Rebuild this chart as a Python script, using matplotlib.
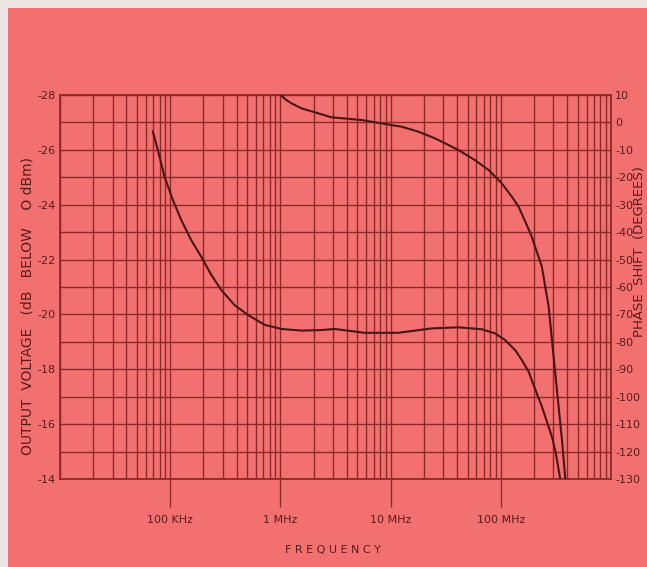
import matplotlib
matplotlib.use("Agg")
import matplotlib.pyplot as plt
from matplotlib.patches import Rectangle

# Output voltage curve (dB below 0 dBm) vs frequency (Hz)
amp_freq = [69.6e3, 77.3e3, 88.8e3, 105.8e3, 126e3, 155e3, 191e3, 236e3, 291e3,
            384e3, 508e3, 720e3, 1.02e6, 1.55e6, 2.36e6, 3.1e6, 5.8e6, 11.7e6,
            23.6e6, 41e6, 67e6, 88.7e6, 109e6, 135e6, 155e6, 179e6, 212e6,
            236e6, 262e6, 291e6, 316e6, 346e6]
amp_db = [-26.66, -25.99, -25.02, -24.17, -23.44, -22.71, -22.11, -21.44, -20.89,
          -20.34, -19.98, -19.62, -19.47, -19.41, -19.43, -19.47, -19.33, -19.33,
          -19.49, -19.53, -19.46, -19.31, -19.07, -18.70, -18.34, -17.91, -17.12,
          -16.64, -16.09, -15.54, -14.94, -14.0]

# Phase shift curve (degrees) vs frequency (Hz)
ph_freq = [1.0e6, 1.12e6, 1.26e6, 1.55e6, 2.2e6, 2.9e6, 5.45e6, 8.9e6, 12.6e6, 17.9e6,
           25.3e6, 33.5e6, 41.2e6, 58e6, 77.3e6, 102e6, 126e6, 145e6, 172e6,
           191e6, 212e6, 236e6, 253e6, 272e6, 291e6, 323e6, 359e6, 385e6]
ph_deg = [10.0, 8.3, 6.97, 5.15, 3.33, 1.87, 0.89, -0.57, -1.56, -3.38,
          -5.8, -8.23, -10.05, -13.7, -17.3, -22.2, -27.1, -30.7, -37.4,
          -41.7, -47.1, -52.6, -59.9, -67.2, -79.3, -97.5, -115.8, -130.0]

left_ticks = [-28, -26, -24, -22, -20, -18, -16, -14]
right_ticks = [10, 0, -10, -20, -30, -40, -50, -60, -70, -80, -90, -100, -110, -120, -130]
right_labels = ["10", "0", "-10", "-20", "-30", "-40", "-50", "-60", "-70", "-80",
                "-90", "-100", "-110", "-120", "-130"]
x_ticks = [1e5, 1e6, 1e7, 1e8]
x_labels = ["100 KHz", "1 MHz", "10 MHz", "100 MHz"]

bg = '#F27070'
grid_c = '#8a2a26'
ink = '#4a1414'
txt = '#5a1c1c'

fig = plt.figure(figsize=(6.47, 5.67), dpi=100)
fig.patch.set_facecolor(bg)
# light paper strip on the top and left edges
grey = '#ECE7E4'
fig.patches.append(Rectangle((0, 0), 8 / 647, 1, transform=fig.transFigure,
                             facecolor=grey, edgecolor='none', zorder=-10))
fig.patches.append(Rectangle((0, 1 - 8 / 567), 1, 8 / 567, transform=fig.transFigure,
                             facecolor=grey, edgecolor='none', zorder=-10))

ax = fig.add_axes([60 / 647, 1 - 479 / 567, 551 / 647, 384 / 567])
ax.set_facecolor(bg)
ax.set_xscale('log')
ax.set_xlim(1e4, 1e9)
ax.set_ylim(-14, -28)

# grid: every unit horizontally, log 1..9 vertically
for v in range(-28, -13):
    ax.axhline(v, color=grid_c, lw=1.0, zorder=1)
for dec in [1e4, 1e5, 1e6, 1e7, 1e8]:
    for m in range(1, 10):
        ax.axvline(dec * m, color=grid_c, lw=1.0, zorder=1)

ax.plot(amp_freq, amp_db, color=ink, lw=1.5, zorder=3)

ax.set_yticks(left_ticks)
ax.set_yticklabels([str(t) for t in left_ticks], fontsize=8, color=txt)
ax.tick_params(axis='y', length=0, pad=3)
ax.set_xticks(x_ticks)
ax.set_xticklabels(x_labels, fontsize=8, color=txt)
ax.xaxis.set_minor_locator(matplotlib.ticker.NullLocator())
ax.tick_params(axis='x', length=20, width=1.0, color=grid_c, pad=6)
for s in ax.spines.values():
    s.set_color(grid_c)
    s.set_linewidth(1.3)

ax2 = ax.twinx()
ax2.set_ylim(-130, 10)
ax2.plot(ph_freq, ph_deg, color=ink, lw=1.5, zorder=3)
ax2.set_yticks(right_ticks)
ax2.set_yticklabels(right_labels, fontsize=8, color=txt)
ax2.tick_params(axis='y', length=0, pad=3)
for s in ax2.spines.values():
    s.set_visible(False)

fig.text(28 / 647, 1 - 306 / 567, "OUTPUT  VOLTAGE   (dB   BELOW    O dBm)", rotation=90,
         ha='center', va='center', fontsize=10, color=txt)
fig.text(639 / 647, 1 - 252 / 567, "PHASE  SHIFT  (DEGREES)", rotation=90,
         ha='center', va='center', fontsize=9.5, color=txt)
fig.text(333 / 647, 1 - 550 / 567, "F R E Q U E N C Y", ha='center', va='center',
         fontsize=8, color=txt)

fig.savefig("out.png", dpi=100, facecolor=fig.get_facecolor())
